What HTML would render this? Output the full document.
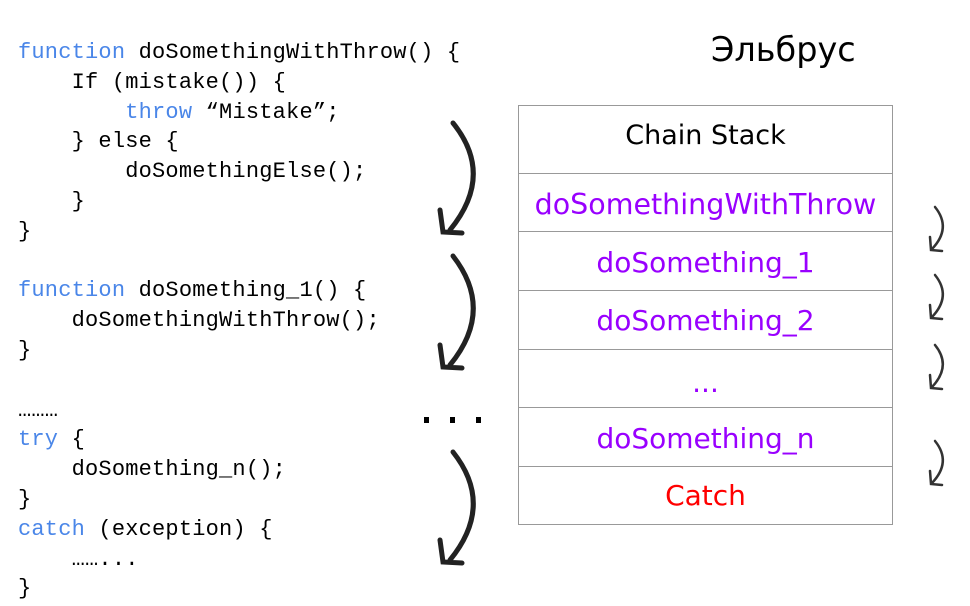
<!DOCTYPE html>
<html><head><meta charset="utf-8"><style>
body{margin:0;width:970px;height:606px;background:#fff;position:relative;overflow:hidden}
pre{position:absolute;left:18px;top:38px;margin:0;font:22px/29.8px "Liberation Mono",monospace;letter-spacing:0.2px;color:#000}
.k{color:#4a86e8}
.t{position:absolute;font-family:"DejaVu Sans","Liberation Sans",sans-serif;}
.box{position:absolute;left:518px;top:105px;width:375px;height:420px;border:1.5px solid #999;box-sizing:border-box}
.row{position:absolute;left:518px;width:375px;text-align:center;font:28px "DejaVu Sans",sans-serif;color:#9900ff}
.ln{position:absolute;left:518px;width:375px;height:0;border-top:1.5px solid #999}
</style></head><body>
<pre><span class="k">function</span> doSomethingWithThrow() {
    If (mistake()) {
        <span class="k">throw</span> “Mistake”;
    } else {
        doSomethingElse();
    }
}

<span class="k">function</span> doSomething_1() {
    doSomethingWithThrow();
}

………
<span class="k">try</span> {
    doSomething_n();
}
<span class="k">catch</span> (exception) {
    ……...
}</pre>
<div class="t" style="left:711px;top:30px;font-size:33.5px;">Эльбрус</div>
<div class="box"></div>
<div class="ln" style="top:173px"></div>
<div class="ln" style="top:231px"></div>
<div class="ln" style="top:290px"></div>
<div class="ln" style="top:349px"></div>
<div class="ln" style="top:407px"></div>
<div class="ln" style="top:466px"></div>
<div class="row" style="top:120px;color:#000;font-size:27px">Chain Stack</div>
<div class="row" style="top:188px;font-size:28.5px">doSomethingWithThrow</div>
<div class="row" style="top:246px">doSomething_1</div>
<div class="row" style="top:304px">doSomething_2</div>
<div class="row" style="top:366px">...</div>
<div class="row" style="top:422px">doSomething_n</div>
<div class="row" style="top:479px;color:#f00">Catch</div>
<svg width="970" height="606" style="position:absolute;left:0;top:0">
<g fill="none" stroke="#222" stroke-width="5" stroke-linecap="round">
<path d="M453 123 Q495 175 450 230 M440 210 L443 232 L462 233"/>
<path d="M453 256 Q495 310 450 365 M440 345 L443 367 L462 368"/>
<path d="M453 452 Q495 505 450 560 M440 540 L443 562 L462 563"/>
</g>
<g fill="#000"><rect x="424" y="417" width="5" height="6"/><rect x="450" y="417" width="5" height="6"/><rect x="476" y="417" width="5" height="6"/></g>
<g fill="none" stroke="#333" stroke-width="2.5" stroke-linecap="round">
<path d="M935 207 Q952 228 932 249 M930 237 L931 250 L942 251"/>
<path d="M935 275 Q952 296 932 317 M930 305 L931 318 L942 319"/>
<path d="M935 345 Q952 366 932 387 M930 375 L931 388 L942 389"/>
<path d="M935 441 Q952 462 932 483 M930 471 L931 484 L942 485"/>
</g>
</svg>
</body></html>
